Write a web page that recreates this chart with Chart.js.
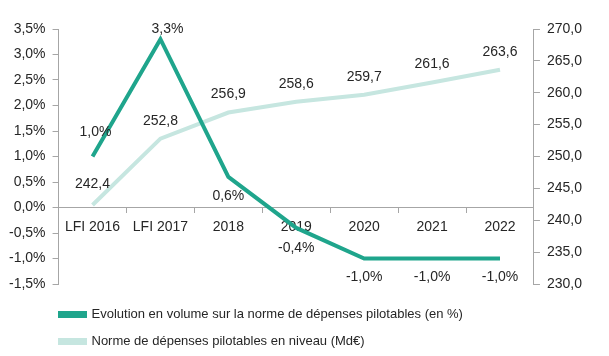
<!DOCTYPE html>
<html><head><meta charset="utf-8">
<script src="https://cdn.jsdelivr.net/npm/chart.js@4"></script>
<style>html,body{margin:0;padding:0;background:#fff}#wrap{width:609px;height:356px}</style>
</head><body><div id="wrap"><canvas id="c" width="609" height="356"></canvas></div>
<script>
const categories = ['LFI 2016', 'LFI 2017', '2018', '2019', '2020', '2021', '2022'];
const evolutionPct = [1.0, 3.3, 0.6, -0.4, -1.0, -1.0, -1.0];
const normeNiveau = [242.4, 252.8, 256.9, 258.6, 259.7, 261.6, 263.6];
const seriesNames = [
  'Evolution en volume sur la norme de dépenses pilotables (en %)',
  'Norme de dépenses pilotables en niveau (Md€)'
];
const leftAxisRange = [-1.5, 3.5, 0.5];
const rightAxisRange = [230, 270, 5];

const FONT = 'Liberation Sans, Arial, sans-serif';
const TXT = '#262626';
const AXIS = '#a6a6a6';
const DARK = '#1fa58c';
const LIGHT = '#c6e6e0';

const fmt = v => v.toFixed(1).replace('.', ',');

// label placement (styling, not data)
const labelOffsets = [
  { dx: [3, 7, 0, 0, 0, 0, 0], dy: [-24, -10, 19, 20, 19, 19, 19], suffix: '%' },
  { dx: [0, 0, 0, 0, 0, 0, 0], dy: [-21, -18, -18, -18, -18, -18, -18], suffix: '' }
];

const dataLabels = {
  id: 'dataLabels',
  afterDatasetsDraw(chart) {
    const ctx = chart.ctx;
    ctx.save();
    ctx.font = '14px ' + FONT;
    ctx.fillStyle = TXT;
    ctx.textAlign = 'center';
    ctx.textBaseline = 'middle';
    chart.data.datasets.forEach((ds, di) => {
      const meta = chart.getDatasetMeta(di);
      const off = labelOffsets[di];
      meta.data.forEach((pt, i) => {
        ctx.fillText(fmt(ds.data[i]) + off.suffix, pt.x + off.dx[i], pt.y + off.dy[i]);
      });
    });
    ctx.restore();
  }
};

const legendShift = {
  id: 'legendShift',
  afterLayout(chart) {
    const lg = chart.legend;
    if (lg) {
      lg.left = 46;
      lg.top += 10;
      lg.bottom += 10;
    }
  }
};

new Chart(document.getElementById('c'), {
  type: 'line',
  data: {
    labels: categories,
    datasets: [
      { label: seriesNames[0], data: evolutionPct, yAxisID: 'y', borderColor: DARK, backgroundColor: DARK,
        borderWidth: 4, pointRadius: 0, tension: 0 },
      { label: seriesNames[1], data: normeNiveau, yAxisID: 'y2', borderColor: LIGHT, backgroundColor: LIGHT,
        borderWidth: 4, pointRadius: 0, tension: 0 }
    ]
  },
  options: {
    responsive: false,
    animation: false,
    devicePixelRatio: 1,
    layout: { padding: { left: 2, right: 20, top: 29, bottom: 8 } },
    plugins: {
      legend: {
        position: 'bottom',
        align: 'start',
        labels: {
          boxWidth: 25, boxHeight: 3, padding: 14,
          color: TXT, font: { family: FONT, size: 13 }
        }
      },
      tooltip: { enabled: false }
    },
    scales: {
      x: {
        type: 'category',
        position: { y: 0 },
        offset: true,
        grid: { offset: true, drawOnChartArea: false, drawTicks: true, tickLength: 5, color: AXIS },
        border: { display: true, color: AXIS, width: 1 },
        ticks: { color: TXT, font: { family: FONT, size: 14 }, padding: 6, maxRotation: 0, autoSkip: false }
      },
      y: {
        position: 'left',
        min: leftAxisRange[0], max: leftAxisRange[1],
        grid: { drawOnChartArea: false, drawTicks: true, tickLength: 6, color: AXIS },
        border: { display: true, color: AXIS, width: 1 },
        ticks: { stepSize: leftAxisRange[2], color: TXT, font: { family: FONT, size: 14 }, padding: 7,
          callback: v => fmt(v) + '%' }
      },
      y2: {
        position: 'right',
        min: rightAxisRange[0], max: rightAxisRange[1],
        grid: { drawOnChartArea: false, drawTicks: true, tickLength: 6, color: AXIS },
        border: { display: true, color: AXIS, width: 1 },
        ticks: { stepSize: rightAxisRange[2], color: TXT, font: { family: FONT, size: 14 }, padding: 7,
          callback: v => fmt(v) }
      }
    }
  },
  plugins: [dataLabels, legendShift]
});
</script>
</body></html>
